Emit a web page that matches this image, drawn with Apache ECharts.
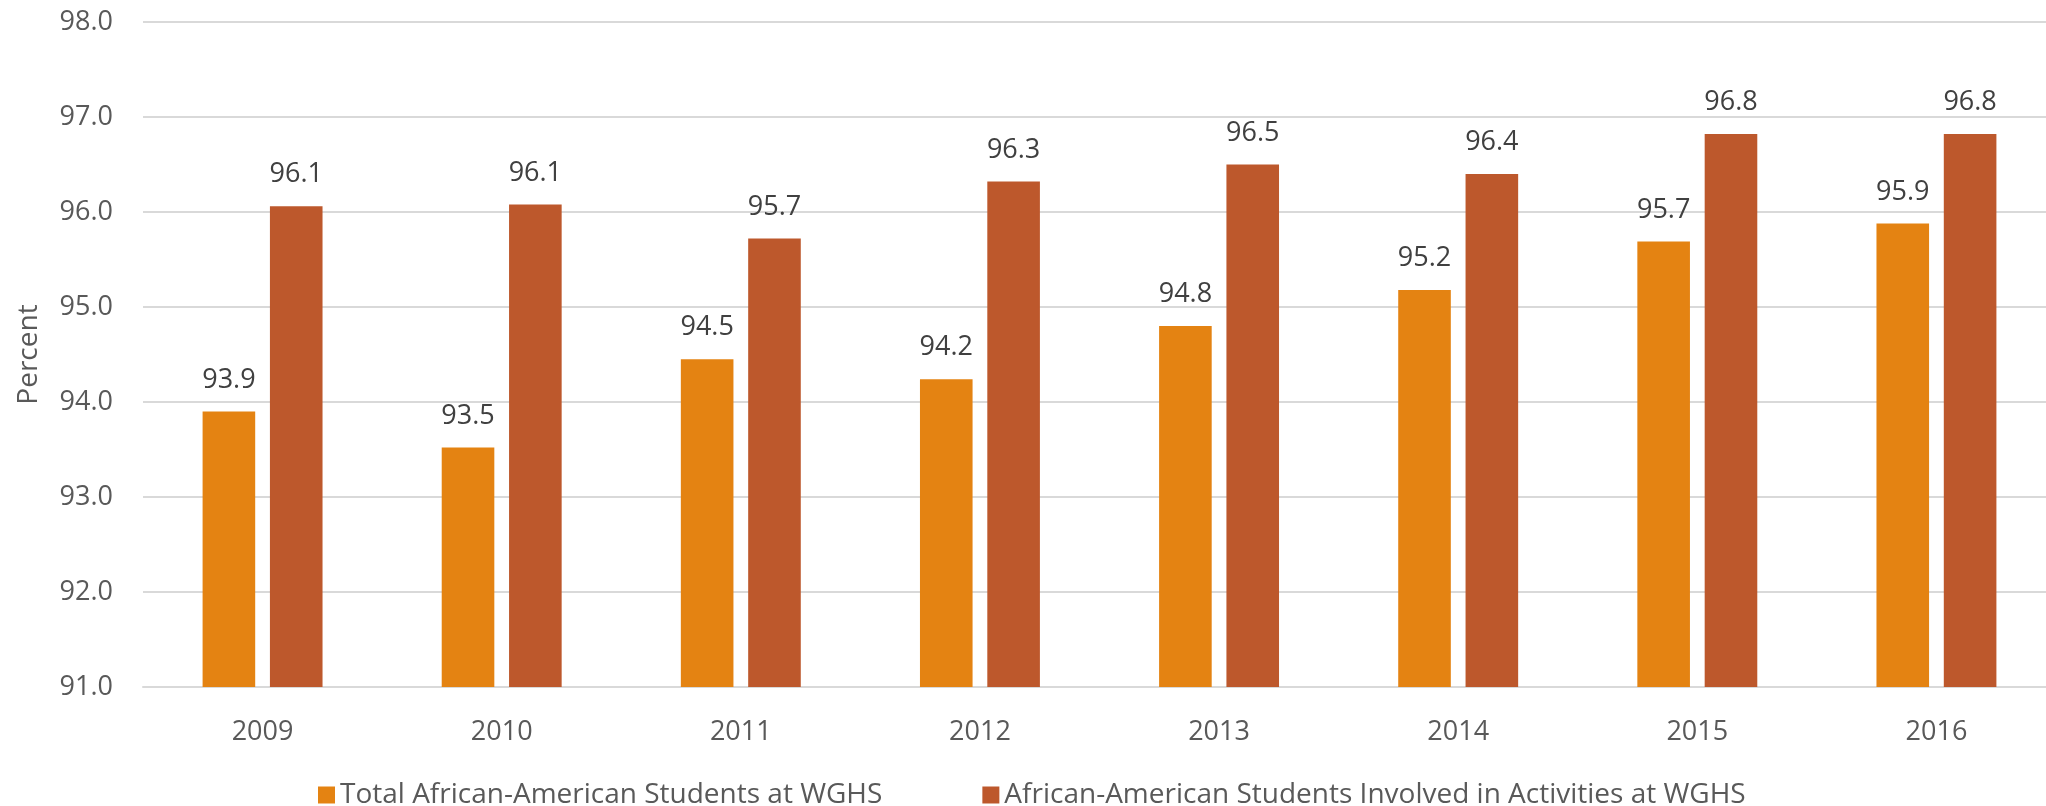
<!DOCTYPE html>
<html>
<head>
<meta charset="utf-8">
<script src="https://cdn.jsdelivr.net/npm/echarts@6/dist/echarts.min.js"></script>
<style>
  html, body { margin: 0; padding: 0; background: #fff; }
  #chart { width: 2046px; height: 806px; }
</style>
</head>
<body>
<div id="chart"></div>
<script>
// 数据
var years = ['2009', '2010', '2011', '2012', '2013', '2014', '2015', '2016'];
var totalStudents = [93.9, 93.52, 94.45, 94.24, 94.8, 95.18, 95.69, 95.88];
var involvedStudents = [96.06, 96.08, 95.72, 96.32, 96.5, 96.4, 96.82, 96.82];
var seriesNames = ['Total African-American Students at WGHS', 'African-American Students Involved in Activities at WGHS'];

var myChart = echarts.init(document.getElementById('chart'));

var font = 'Open Sans';

// 柱子上的数值
function barLabel() {
    return {
        show: true,
        position: 'top',
        distance: 18,
        color: '#404040',
        fontSize: 27,
        fontFamily: font,
        formatter: function (p) { return p.value.toFixed(1); }
    };
}

var option = {
    animation: false,
    color: ['#E48312', '#BD582C'],
    textStyle: { fontFamily: font },
    legend: {
        left: 313,
        top: 776,
        itemWidth: 17,
        itemHeight: 17,
        itemGap: 100,
        icon: 'rect',
        textStyle: { color: '#595959', fontSize: 28, fontFamily: font },
        data: seriesNames
    },
    // 绘图区右侧超出画布
    grid: {
        left: 143,
        top: 22,
        width: 1913,
        height: 665,
        containLabel: false,
        outerBoundsMode: 'none'
    },
    xAxis: {
        type: 'category',
        data: years,
        axisLine: { lineStyle: { color: '#d9d9d9', width: 2 } },
        axisTick: { show: false },
        axisLabel: { color: '#595959', fontSize: 27, margin: 32, fontFamily: font }
    },
    yAxis: {
        type: 'value',
        min: 91,
        max: 98,
        interval: 1,
        name: 'Percent',
        nameLocation: 'middle',
        nameRotate: 90,
        nameGap: 100,
        nameTextStyle: { color: '#595959', fontSize: 28, fontFamily: font },
        axisLine: { show: false },
        axisTick: { show: false },
        axisLabel: {
            color: '#595959',
            fontSize: 27,
            margin: 30,
            fontFamily: font,
            formatter: function (v) { return v.toFixed(1); }
        },
        splitLine: { lineStyle: { color: '#d9d9d9', width: 2 } }
    },
    series: [{
        name: seriesNames[0],
        type: 'bar',
        data: totalStudents,
        barWidth: '22%',
        barGap: '28%',
        label: barLabel()
    }, {
        name: seriesNames[1],
        type: 'bar',
        data: involvedStudents,
        barWidth: '22%',
        label: barLabel()
    }]
};

myChart.setOption(option);
</script>
</body>
</html>
